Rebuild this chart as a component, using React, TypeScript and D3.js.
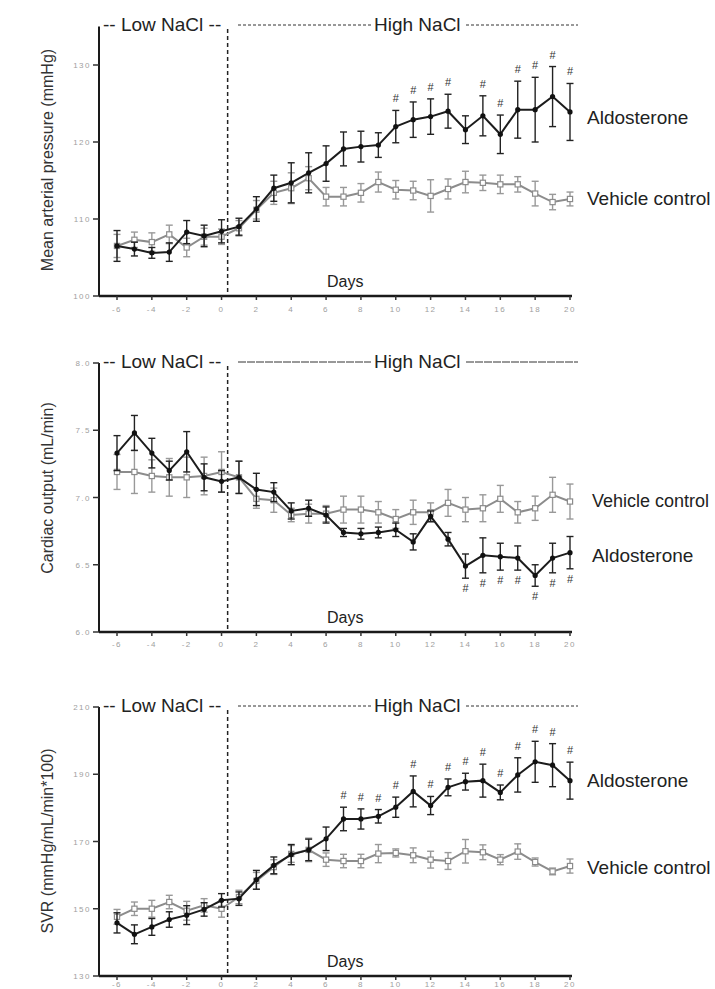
import React from 'react'
import * as d3 from 'd3'

// study days, low salt -6..0 then high salt 1..20
const DAYS = [-6, -5, -4, -3, -2, -1, 0, 1, 2, 3, 4, 5, 6, 7, 8, 9, 10, 11, 12, 13, 14, 15, 16, 17, 18, 19, 20]
const X_TICKS = [-6, -4, -2, 0, 2, 4, 6, 8, 10, 12, 14, 16, 18, 20]

// mean arterial pressure (mmHg)
const MAP_ALDO = [106.5, 106.1, 105.6, 105.7, 108.3, 107.8, 108.4, 109.0, 111.3, 114.0, 114.7, 116.0, 117.2, 119.1, 119.4, 119.6, 122.0, 122.9, 123.3, 124.0, 121.6, 123.4, 121.0, 124.2, 124.2, 125.9, 123.9]
const MAP_ALDO_SE = [2.0, 0.9, 0.7, 1.2, 1.5, 1.4, 1.5, 1.1, 1.6, 1.7, 2.6, 2.6, 2.3, 2.2, 2.0, 1.6, 2.1, 2.3, 2.3, 2.2, 1.8, 2.6, 2.5, 3.7, 4.2, 3.9, 3.7]
const MAP_VEH = [106.5, 107.3, 107.0, 108.0, 106.3, 107.7, 107.7, 108.8, 111.2, 113.4, 114.0, 115.3, 112.9, 112.9, 113.4, 114.8, 113.8, 113.7, 113.0, 113.9, 114.8, 114.7, 114.5, 114.5, 113.3, 112.2, 112.6]
const MAP_VEH_SE = [1.5, 1.0, 1.2, 1.2, 1.2, 1.1, 1.0, 1.0, 1.2, 1.5, 2.0, 1.5, 1.2, 1.2, 1.2, 1.3, 1.2, 1.2, 2.1, 1.3, 1.4, 1.0, 1.2, 1.0, 1.6, 1.0, 0.9]
const MAP_HASH = [10, 11, 12, 13, 15, 16, 17, 18, 19, 20]
const MAP_TICKS = [100, 110, 120, 130]

// cardiac output
const CO_ALDO = [7.33, 7.48, 7.33, 7.20, 7.34, 7.15, 7.12, 7.15, 7.06, 7.04, 6.90, 6.92, 6.87, 6.74, 6.73, 6.74, 6.76, 6.67, 6.86, 6.69, 6.49, 6.57, 6.56, 6.55, 6.42, 6.55, 6.59]
const CO_ALDO_SE = [0.13, 0.13, 0.11, 0.07, 0.15, 0.10, 0.08, 0.12, 0.12, 0.07, 0.06, 0.06, 0.06, 0.03, 0.04, 0.04, 0.05, 0.06, 0.04, 0.05, 0.09, 0.13, 0.10, 0.09, 0.08, 0.11, 0.12]
const CO_VEH = [7.19, 7.19, 7.16, 7.15, 7.15, 7.16, 7.19, 7.15, 6.99, 6.98, 6.87, 6.88, 6.88, 6.91, 6.91, 6.89, 6.84, 6.89, 6.89, 6.96, 6.91, 6.92, 6.99, 6.89, 6.92, 7.02, 6.97]
const CO_VEH_SE = [0.13, 0.16, 0.12, 0.14, 0.15, 0.14, 0.15, 0.12, 0.07, 0.09, 0.05, 0.07, 0.06, 0.10, 0.10, 0.08, 0.07, 0.09, 0.07, 0.10, 0.09, 0.10, 0.10, 0.08, 0.09, 0.13, 0.13]
const CO_HASH = [14, 15, 16, 17, 18, 19, 20]
const CO_TICKS = [6.0, 6.5, 7.0, 7.5, 8.0]

// systemic vascular resistance
const SVR_ALDO = [145.8, 142.4, 144.6, 146.8, 148.1, 149.8, 152.5, 153.0, 158.6, 162.9, 166.1, 167.5, 170.8, 176.7, 176.7, 177.5, 180.2, 184.9, 180.7, 186.1, 187.8, 188.1, 184.6, 189.8, 193.7, 192.7, 188.1]
const SVR_ALDO_SE = [3.0, 2.8, 2.5, 2.3, 2.8, 2.0, 2.0, 2.0, 2.8, 2.5, 3.0, 3.2, 3.5, 3.5, 3.0, 2.0, 3.0, 4.6, 2.7, 2.5, 2.5, 4.9, 2.2, 5.1, 6.1, 6.4, 5.5]
const SVR_VEH = [147.6, 150.0, 150.0, 152.0, 149.4, 151.0, 150.0, 153.5, 158.3, 162.4, 166.3, 167.5, 164.6, 164.2, 164.2, 166.4, 166.6, 165.9, 164.6, 164.2, 167.1, 166.8, 164.6, 167.0, 163.9, 161.1, 162.7]
const SVR_VEH_SE = [2.2, 2.0, 2.5, 2.0, 2.8, 2.0, 2.5, 2.0, 2.5, 2.2, 2.5, 3.5, 2.0, 2.0, 2.0, 2.7, 1.2, 2.2, 2.5, 2.5, 3.5, 2.2, 1.5, 2.3, 1.2, 1.0, 2.1]
const SVR_HASH = [7, 8, 9, 10, 11, 12, 13, 14, 15, 16, 17, 18, 19, 20]
const SVR_TICKS = [130, 150, 170, 190, 210]

const FONT = 'Arial, "Liberation Sans", sans-serif'
const x = d3.scaleLinear().domain([-6, 20]).range([117, 570])
const AXIS_X = 99
const SWITCH_DAY = 0.35

function Series({ y, vals, se, aldo }) {
  const line = d3.line<number>().x((_, i) => x(DAYS[i])).y(v => y(v))
  const col = aldo ? '#1c1c1c' : '#8c8c8c'
  return (
    <g>
      <path d={line(vals)} fill="none" stroke={col} strokeWidth={2} />
      {vals.map((v, i) => {
        const cx = x(DAYS[i])
        const t = y(v + se[i]), b = y(v - se[i])
        return (
          <g key={i} stroke={aldo ? '#222' : '#999'} strokeWidth={1.4}>
            <line x1={cx} x2={cx} y1={t} y2={b} />
            <line x1={cx - 3.5} x2={cx + 3.5} y1={t} y2={t} />
            <line x1={cx - 3.5} x2={cx + 3.5} y1={b} y2={b} />
          </g>
        )
      })}
      {vals.map((v, i) => aldo
        ? <circle key={'m' + i} cx={x(DAYS[i])} cy={y(v)} r={2.6} fill="#111" />
        : <rect key={'m' + i} x={x(DAYS[i]) - 2.6} y={y(v) - 2.6} width={5.2} height={5.2} fill="#fff" stroke="#8c8c8c" strokeWidth={1.2} />
      )}
    </g>
  )
}

function Panel({ top, bottom, domain, ticks, fmt, title, titleY, aldo, aldoSe, veh, vehSe, hash, below, legAldo, legVeh, legX, legSize, headY, solidHigh, xLabDy }) {
  const y = d3.scaleLinear().domain(domain).range([bottom, top])
  const dashX = x(SWITCH_DAY)
  return (
    <g fontFamily={FONT}>
      {/* header */}
      <text x={103} y={headY} fontSize={19} fill="#222">-- Low NaCl --</text>
      <line x1={238} x2={371} y1={headY - 6} y2={headY - 6} stroke="#333" strokeWidth={1} strokeDasharray={solidHigh ? '8 1' : '3 2'} />
      <text x={374} y={headY} fontSize={19} fill="#222">High NaCl</text>
      <line x1={466} x2={578} y1={headY - 6} y2={headY - 6} stroke="#333" strokeWidth={1} strokeDasharray={solidHigh ? '8 1' : '3 2'} />
      <line x1={dashX} x2={dashX} y1={headY - 2} y2={bottom} stroke="#222" strokeWidth={1.5} strokeDasharray="4 3" />

      {/* axes */}
      <line x1={AXIS_X} x2={AXIS_X} y1={top} y2={bottom} stroke="#1a1a1a" strokeWidth={2} />
      <line x1={AXIS_X} x2={x(20) + 2} y1={bottom} y2={bottom} stroke="#1a1a1a" strokeWidth={2.5} />
      {ticks.map(t => (
        <g key={t}>
          <line x1={AXIS_X - 6} x2={AXIS_X} y1={y(t)} y2={y(t)} stroke="#333" strokeWidth={1.5} />
          <text x={AXIS_X - 8} y={y(t) + 3} fontSize={8} fill="#a0a0a0" textAnchor="end" letterSpacing={1.5}>{fmt(t)}</text>
        </g>
      ))}
      {X_TICKS.map(t => (
        <g key={t}>
          <line x1={x(t)} x2={x(t)} y1={bottom} y2={bottom + 4} stroke="#333" strokeWidth={1.5} />
          <text x={x(t)} y={bottom + xLabDy} fontSize={8} fill="#a0a0a0" textAnchor="middle" letterSpacing={1.5}>{String(t)}</text>
        </g>
      ))}
      <text x={327} y={bottom - 9} fontSize={16} fill="#222">Days</text>
      <text transform={`translate(53,${titleY}) rotate(-90)`} fontSize={16} fill="#333" textAnchor="middle">{title}</text>

      <Series y={y} vals={veh} se={vehSe} aldo={false} />
      <Series y={y} vals={aldo} se={aldoSe} aldo={true} />

      {hash.map(d => {
        const i = DAYS.indexOf(d)
        const hy = below ? y(aldo[i] - aldoSe[i]) + 14 : y(aldo[i] + aldoSe[i]) - 8
        return <text key={d} x={x(d)} y={hy} fontSize={11} fill="#333" textAnchor="middle">#</text>
      })}

      <text x={legX} y={legAldo} fontSize={19} fill="#222">Aldosterone</text>
      <text x={legX} y={legVeh} fontSize={legSize} fill="#222">Vehicle control</text>
    </g>
  )
}

export default function App() {
  return (
    <svg width={715} height={989} style={{ position: 'absolute', left: 0, top: 0, background: '#fff' }}>
      <rect width={715} height={989} fill="#fff" />
      <Panel top={26.5} bottom={296} domain={[100, 135]} ticks={MAP_TICKS} fmt={String}
        title="Mean arterial pressure (mmHg)" titleY={160}
        aldo={MAP_ALDO} aldoSe={MAP_ALDO_SE} veh={MAP_VEH} vehSe={MAP_VEH_SE}
        hash={MAP_HASH} below={false} legAldo={124} legVeh={205} legX={587} legSize={19} headY={31} solidHigh={false} xLabDy={16} />
      <Panel top={363} bottom={632} domain={[6, 8]} ticks={CO_TICKS} fmt={d => d.toFixed(1)}
        title="Cardiac output (mL/min)" titleY={488}
        aldo={CO_ALDO} aldoSe={CO_ALDO_SE} veh={CO_VEH} vehSe={CO_VEH_SE}
        hash={CO_HASH} below={true} legAldo={562} legVeh={507} legX={592} legSize={18} headY={368} solidHigh={true} xLabDy={15} />
      <Panel top={707} bottom={976} domain={[130, 210]} ticks={SVR_TICKS} fmt={String}
        title="SVR (mmHg/mL/min*100)" titleY={841}
        aldo={SVR_ALDO} aldoSe={SVR_ALDO_SE} veh={SVR_VEH} vehSe={SVR_VEH_SE}
        hash={SVR_HASH} below={false} legAldo={787} legVeh={874} legX={587} legSize={19} headY={712} solidHigh={false} xLabDy={11} />
    </svg>
  )
}
